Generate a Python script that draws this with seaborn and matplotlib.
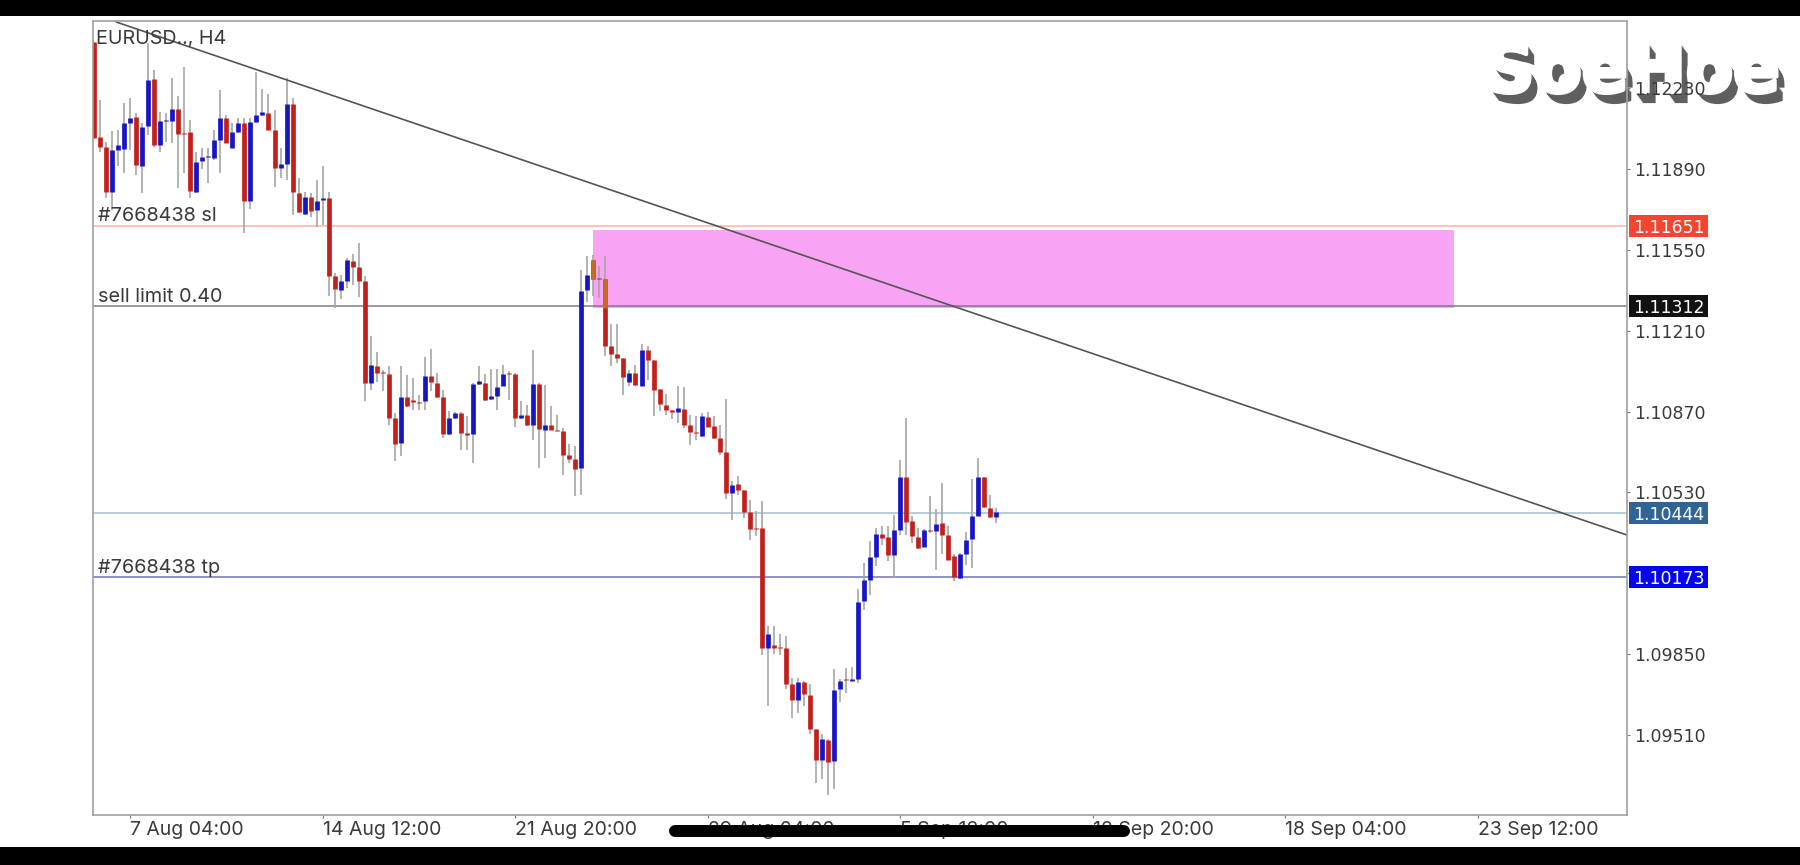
import numpy as np
import pandas as pd
import seaborn as sns
import matplotlib.pyplot as plt
import matplotlib.patheffects as pe
from matplotlib.lines import Line2D
from matplotlib.patches import Rectangle
from matplotlib.transforms import blended_transform_factory

# prices in points (1e-5)
open_pts = [112422,112023,111984,111792,111970,111974,112082,112110,111904,112069,
            112268,111991,112092,112092,112141,112043,112046,111792,111922,111939,
            111938,112012,112104,111978,112047,112085,111754,112088,112117,112127,
            112054,111894,111911,112163,111789,111701,111773,111717,111760,111766,
            111442,111382,111417,111505,111479,111417,110990,111060,111038,111029,
            110842,110738,110930,110920,110912,110914,111021,110989,110930,110777,
            110843,110864,110779,110777,110986,110990,110924,110934,110977,111032,
            111026,110842,110854,110814,110984,110794,110815,110794,110788,110689,
            110672,110632,111381,111508,111431,111428,111144,111112,111094,110994,
            111031,110979,111129,111087,110963,110899,110877,110867,110882,110814,
            110786,110766,110847,110811,110759,110700,110528,110567,110539,110447,
            110381,110381,109874,109887,109881,109878,109726,109659,109733,109680,
            109534,109404,109489,109401,109702,109744,109738,109747,110072,110164,
            110259,110357,110342,110269,110374,110595,110409,110342,110301,110374,
            110370,110402,110350,110262,110171,110270,110335,110433,110597,110465,
            110427]
high_pts = [112422,112180,112005,112051,112054,112166,112190,112124,112082,112418,
            112306,112131,112124,112271,112197,112320,112096,111963,111977,111977,
            112054,112222,112117,112082,112103,112103,112103,112299,112225,112205,
            112138,111977,112271,112187,111851,111795,111791,111844,111903,111795,
            111452,111445,111515,111532,111578,111440,111186,111119,111045,111060,
            110864,111063,111025,111011,110941,111099,111133,111032,110962,110871,
            110867,110867,110850,110990,111063,111029,111049,111049,111067,111039,
            111032,110913,110899,111127,110990,110983,110892,110857,110801,110735,
            110727,111466,111525,111529,111480,111522,111239,111239,111095,111046,
            111067,111155,111147,111088,110965,110945,110878,110976,110972,110857,
            110850,110864,110868,110853,110815,110924,110577,110601,110542,110500,
            110451,110493,109968,109968,109933,109926,109748,109751,109737,109723,
            109537,109513,109492,109786,109747,109793,109796,110125,110234,110325,
            110381,110388,110388,110437,110668,110843,110430,110381,110377,110514,
            110462,110570,110391,110273,110276,110363,110587,110675,110597,110521,
            110465]
low_pts = [112021,111963,111767,111718,111903,111875,111970,111865,111788,112033,
           111984,111963,112005,112001,111809,111872,111767,111791,111889,111830,
           111928,111875,111998,111976,112040,111620,111722,112085,112113,112054,
           111816,111851,111844,111697,111704,111697,111690,111648,111655,111354,
           111305,111343,111389,111403,111351,110913,110962,110994,110955,110815,
           110661,110685,110889,110878,110878,110878,110955,110927,110759,110773,
           110839,110710,110710,110654,110983,110913,110920,110878,110976,110920,
           110804,110839,110811,110752,110633,110675,110791,110787,110605,110654,
           110514,110521,111329,111354,111347,111105,111063,111074,110941,110979,
           110979,110976,111001,110853,110871,110856,110840,110822,110801,110731,
           110749,110763,110804,110756,110689,110503,110416,110521,110423,110332,
           110346,109845,109632,109849,109845,109705,109580,109601,109632,109513,
           109307,109327,109258,109282,109649,109685,109737,109727,110034,110097,
           110220,110307,110241,110171,110353,110353,110318,110294,110300,110360,
           110203,110272,110245,110157,110168,110223,110213,110430,110465,110423,
           110402]
close_pts = [112021,111984,111792,111969,111991,112082,112106,111906,112065,112264,
             111990,112093,112096,112141,112037,112037,111798,111921,111939,111945,
             112012,112104,112001,112046,112085,111754,112086,112117,112128,112054,
             111894,111910,112163,111792,111707,111774,111715,111757,111767,111441,
             111386,111417,111508,111479,111417,110992,111064,111033,111031,110843,
             110735,110930,110893,110910,110905,111018,110993,110931,110777,110843,
             110863,110780,110772,110986,111000,110919,110934,110973,111029,111028,
             110843,110854,110814,110984,110795,110815,110794,110790,110689,110671,
             110630,111379,111445,111428,111427,111144,111112,111095,111015,111032,
             110980,111129,111085,110962,110900,110877,110867,110884,110815,110783,
             110780,110850,110807,110759,110702,110528,110563,110541,110447,110378,
             110377,109874,109936,109876,109877,109726,109656,109733,109681,109537,
             109407,109492,109397,109699,109737,109740,109747,110070,110161,110258,
             110356,110340,110268,110374,110594,110406,110346,110297,110373,110370,
             110398,110353,110248,110175,110272,110332,110430,110594,110469,110427,
             110447]

tick_bars = [6, 38, 70, 102, 134, 166, 198, 230]
tick_dates = ['7 Aug 04:00', '14 Aug 12:00', '21 Aug 20:00', '29 Aug 04:00',
              '5 Sep 12:00', '12 Sep 20:00', '18 Sep 04:00', '23 Sep 12:00']
price_ticks = [1.09510, 1.09850, 1.10190, 1.10530, 1.10870, 1.11210, 1.11550, 1.11890, 1.12230]
# 1.10190 sits behind the tp badge so it gets no label
price_labels = ['1.09510', '1.09850', '', '1.10530', '1.10870', '1.11210', '1.11550', '1.11890', '1.12230']

sl_price = 1.11651
limit_price = 1.11312
last_price = 1.10444
tp_price = 1.10173
zone_bars = [82.9, 226.1]
zone_prices = [1.11305, 1.11634]
trend_bars = [3.66, 254.8]
trend_prices = [1.12508, 1.10351]

INK = '#3a3a3a'
FONT = 'Inter'

sns.set_style('white')
plt.rcParams['font.family'] = [FONT, 'DejaVu Sans']

bars = np.arange(len(open_pts))
ohlc = pd.DataFrame({'bar': bars,
                     'open': np.array(open_pts) / 1e5, 'high': np.array(high_pts) / 1e5,
                     'low': np.array(low_pts) / 1e5, 'close': np.array(close_pts) / 1e5})
ohlc['side'] = np.where(ohlc['close'] >= ohlc['open'], 'up', 'down')
wicks = ohlc.melt(id_vars=['bar'], value_vars=['high', 'low'], value_name='price')
bodies = ohlc.melt(id_vars=['bar', 'side'], value_vars=['open', 'close'], value_name='price')

fig = plt.figure(figsize=(18, 8.65), dpi=100, facecolor='white')
ax = fig.add_axes([93 / 1800, 1 - 815 / 865, (1627 - 93) / 1800, (815 - 21) / 865], zorder=5)
ax.patch.set_alpha(0)

# zone goes in first, candles sit on top of it
ax.add_patch(Rectangle((zone_bars[0], zone_prices[0]), zone_bars[1] - zone_bars[0],
                       zone_prices[1] - zone_prices[0], fc='#f9a3f5', ec='none', zorder=1))

for price, col in [(sl_price, '#f5b5aa'), (limit_price, '#7d7d7d'),
                   (last_price, '#a3bdd6'), (tp_price, '#6f73bd')]:
    ax.axhline(price, color=col, lw=1.1, zorder=1.5)

sns.lineplot(data=wicks, x='bar', y='price', units='bar', estimator=None, sort=False,
             color='#a6a6a6', lw=1.2, solid_capstyle='butt', ax=ax, zorder=2)
sns.lineplot(data=bodies, x='bar', y='price', hue='side', units='bar', estimator=None, sort=False,
             palette={'up': '#1616c4', 'down': '#c4201a'}, lw=3.4, solid_capstyle='butt',
             legend=False, ax=ax, zorder=2.2)

# the two down candles inside the zone look orange
tinted = bodies[bodies['bar'].isin([83, 85])].copy()
tinted['price'] = tinted['price'].clip(zone_prices[0], zone_prices[1])
sns.lineplot(data=tinted, x='bar', y='price', units='bar', estimator=None, sort=False,
             color='#c96a22', lw=3.4, solid_capstyle='butt', ax=ax, zorder=2.3)

trend = pd.DataFrame({'bar': trend_bars, 'price': trend_prices})
sns.lineplot(data=trend, x='bar', y='price', color='#555555', lw=1.2, ax=ax, zorder=2.5)

ax.set_xlim(-0.17, 254.8)
ax.set_ylim(1.09174, 1.12512)
ax.set_xlabel('')
ax.set_ylabel('')
for side in ax.spines.values():
    side.set_color('#a0a0a0')
    side.set_linewidth(1.2)

ax.yaxis.tick_right()
ax.set_yticks(price_ticks)
ax.set_yticklabels(price_labels, family='DejaVu Sans', fontsize=12.5)
ax.set_xticks(tick_bars)
ax.set_xticklabels(tick_dates, ha='left', fontsize=14)
ax.tick_params(axis='both', length=2.5, width=0.8, color='#777777', labelcolor=INK,
               pad=2.5, bottom=True, right=True)
ax.tick_params(axis='x', pad=1.5)

# price badges on the right hand scale
trans = blended_transform_factory(ax.transAxes, ax.transData)
badge_h = 22 / 23787
for price, col in [(sl_price, '#f4452e'), (limit_price, '#111111'),
                   (last_price, '#2f6596'), (tp_price, '#0505ee')]:
    ax.add_patch(Rectangle((1.0012, price - badge_h / 2), 0.0515, badge_h, transform=trans,
                           fc=col, ec='none', clip_on=False, zorder=5))
    ax.text(1.0039, price, '%.5f' % price, transform=trans, color='white', fontsize=12.5,
            family='DejaVu Sans', va='center_baseline', ha='left', zorder=6, clip_on=False)

for price, label in [(sl_price, '#7668438 sl'), (limit_price, 'sell limit 0.40'),
                     (tp_price, '#7668438 tp')]:
    ax.annotate(label, (0, price), xycoords=trans, xytext=(3.5, 0.5), textcoords='offset points',
                color=INK, fontsize=14.3, va='bottom', ha='left', zorder=4)
ax.text(0.002, 0.989, 'EURUSD.., H4', transform=ax.transAxes, color=INK, fontsize=14.2,
        va='top', ha='left', zorder=4)

# black bands and the scroll bar from the phone screenshot
fig.add_artist(Rectangle((0, 1 - 16 / 865), 1, 16 / 865, transform=fig.transFigure, fc='black', ec='none'))
fig.add_artist(Rectangle((0, 0), 1, 18 / 865, transform=fig.transFigure, fc='black', ec='none'))
scroll = Line2D([675 / 1800, 1124 / 1800], [1 - 831 / 865] * 2, color='black', lw=8.6,
                solid_capstyle='round', transform=fig.transFigure, zorder=10)
fig.add_artist(scroll)

# watermark, extruded grey shadow under white letters
extrude = [pe.SimplePatchShadow(offset=(0.72 * s, -1.0 * s), shadow_rgbFace='#5f5f5f', alpha=1)
           for s in np.arange(1, 9)]
fig.text(1485 / 1800, 1 - 92 / 865, 'SoeHoe', color='white', fontsize=49.5, fontweight='bold',
         family='DejaVu Sans', ha='left', va='baseline', zorder=1,
         path_effects=extrude + [pe.Stroke(linewidth=3, foreground='white'), pe.Normal()])

fig.savefig('out.png', dpi=100)
